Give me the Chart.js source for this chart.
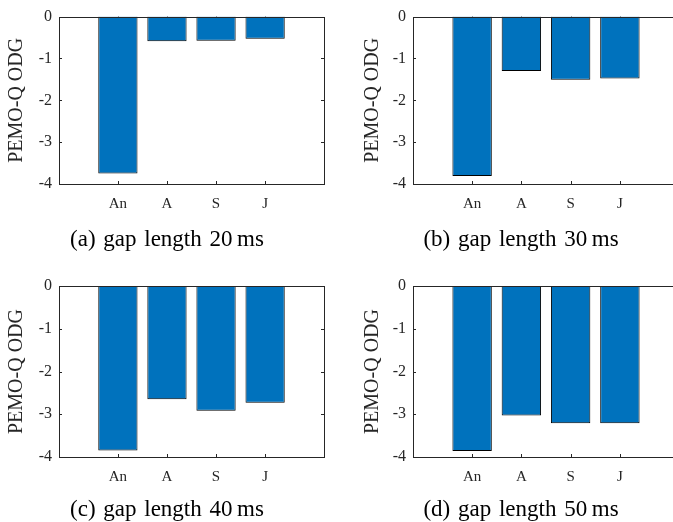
<!DOCTYPE html>
<html>
<head>
<meta charset="utf-8">
<script src="https://cdn.jsdelivr.net/npm/chart.js@4/dist/chart.umd.min.js"></script>
<style>
  html, body { margin: 0; padding: 0; background: #fff; overflow: hidden; width: 673px; height: 522px; }
  canvas { position: absolute; }
  .cap { position: absolute; width: 336px; text-align: center; font-family: "Liberation Serif", serif; font-size: 23px; line-height: 26px; color: #000; word-spacing: 2px; white-space: nowrap; }
</style>
</head>
<body>
<canvas id="c20" width="336" height="260" style="left:0px;top:0px"></canvas>
<canvas id="c30" width="350" height="260" style="left:336px;top:0px"></canvas>
<canvas id="c40" width="336" height="262" style="left:0px;top:260px"></canvas>
<canvas id="c50" width="350" height="262" style="left:336px;top:260px"></canvas>
<div class="cap" style="left:-1px;top:226px">(a) gap length 20&#8201;ms</div>
<div class="cap" style="left:353px;top:226px">(b) gap length 30&#8201;ms</div>
<div class="cap" style="left:-1px;top:496px">(c) gap length 40&#8201;ms</div>
<div class="cap" style="left:353px;top:496px">(d) gap length 50&#8201;ms</div>
<script>
// data
const categories = ["An", "A", "S", "J"];
const odg20 = [-3.75, -0.59, -0.58, -0.53];
const odg30 = [-3.81, -1.30, -1.51, -1.48];
const odg40 = [-3.85, -2.65, -2.92, -2.73];
const odg50 = [-3.86, -3.03, -3.21, -3.21];
const yTicks = [0, -1, -2, -3, -4];
const yTitle = "PEMO-Q ODG";

const axisColor = "#262626";
const barColor = "#0072BD";

// box round the plot, ticks pointing inwards
const boxPlugin = {
  id: "box",
  beforeDatasetsDraw(chart) {
    const ctx = chart.ctx, a = chart.chartArea;
    const xs = chart.scales.x, ys = chart.scales.y;
    ctx.save();
    ctx.strokeStyle = axisColor;
    ctx.lineWidth = 1;
    ctx.beginPath();
    categories.forEach((c, i) => {
      const px = Math.round(xs.getPixelForValue(i + 1)) + 0.5;
      ctx.moveTo(px, a.bottom); ctx.lineTo(px, a.bottom - 3);
      ctx.moveTo(px, a.top); ctx.lineTo(px, a.top + 3);
    });
    yTicks.forEach(v => {
      const py = Math.round(ys.getPixelForValue(v)) + 0.5;
      ctx.moveTo(a.left, py); ctx.lineTo(a.left + 3, py);
      ctx.moveTo(a.right, py); ctx.lineTo(a.right - 3, py);
    });
    ctx.stroke();
    ctx.restore();
  },
  afterDatasetsDraw(chart) {
    const ctx = chart.ctx, a = chart.chartArea;
    ctx.save();
    ctx.strokeStyle = axisColor;
    ctx.lineWidth = 1;
    ctx.strokeRect(Math.round(a.left) + 0.5, Math.round(a.top) + 0.5,
      Math.round(a.right - a.left), Math.round(a.bottom - a.top));
    ctx.restore();
  }
};

function makeChart(id, values, yWidth, titlePad, xHeight, pad) {
  return new Chart(document.getElementById(id), {
    type: "bar",
    data: {
      datasets: [{
        data: values.map((v, i) => ({ x: i + 1, y: v })),
        backgroundColor: barColor,
        borderColor: "#000",
        borderWidth: 1,
        barPercentage: 1,
        categoryPercentage: 0.8
      }]
    },
    options: {
      responsive: false,
      devicePixelRatio: 1,
      animation: false,
      layout: { padding: pad },
      plugins: { legend: { display: false }, tooltip: { enabled: false } },
      scales: {
        x: {
          type: "linear",
          offset: false,
          min: -0.2,
          max: 5.2,
          afterBuildTicks: s => { s.ticks = categories.map((c, i) => ({ value: i + 1 })); },
          afterFit: s => { s.height = xHeight; },
          grid: { display: false, drawTicks: false, offset: false },
          border: { display: false },
          ticks: {
            padding: 11,
            color: axisColor,
            font: { family: "Liberation Serif", size: 15 },
            callback: v => categories[v - 1]
          }
        },
        y: {
          min: -4,
          max: 0,
          afterBuildTicks: s => { s.ticks = yTicks.map(v => ({ value: v })); },
          afterFit: s => { s.width = yWidth; },
          grid: { display: false, drawTicks: false },
          border: { display: false },
          ticks: {
            padding: 7,
            color: axisColor,
            font: { family: "Liberation Serif", size: 16 },
            callback: v => String(v)
          },
          title: {
            display: true,
            text: yTitle,
            color: axisColor,
            padding: { top: titlePad, bottom: 0 },
            font: { family: "Liberation Serif", size: 20 }
          }
        }
      }
    },
    plugins: [boxPlugin]
  });
}

makeChart("c20", odg20, 59, 5, 76, { left: 0, top: 14, right: 12, bottom: 0 });
makeChart("c30", odg30, 77, 25, 76, { left: 0, top: 14, right: 7, bottom: 0 });
makeChart("c40", odg40, 59, 5, 65, { left: 0, top: 26, right: 12, bottom: 0 });
makeChart("c50", odg50, 77, 25, 65, { left: 0, top: 26, right: 7, bottom: 0 });
</script>
</body>
</html>
